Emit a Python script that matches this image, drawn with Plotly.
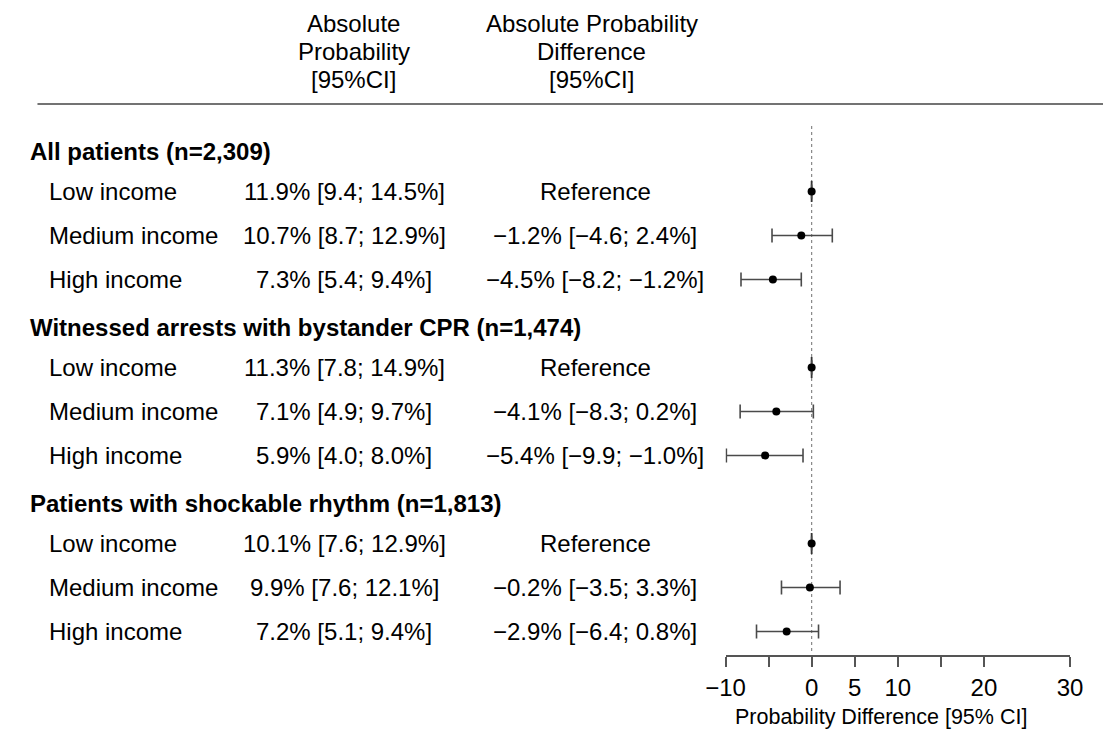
import plotly.graph_objects as go

W, H = 1116, 729
FONT = "Liberation Sans, Arial, Helvetica, sans-serif"

# ---------------- data ----------------
groups = ["All patients (n=2,309)",
          "Witnessed arrests with bystander CPR (n=1,474)",
          "Patients with shockable rhythm (n=1,813)"]
income = ["Low income", "Medium income", "High income"]

# absolute probability [95% CI] per group (low, medium, high)
abs_est = [[11.9, 10.7, 7.3], [11.3, 7.1, 5.9], [10.1, 9.9, 7.2]]
abs_lo = [[9.4, 8.7, 5.4], [7.8, 4.9, 4.0], [7.6, 7.6, 5.1]]
abs_hi = [[14.5, 12.9, 9.4], [14.9, 9.7, 8.0], [12.9, 12.1, 9.4]]

# absolute probability difference vs low income [95% CI]
diff_est = [[0.0, -1.2, -4.5], [0.0, -4.1, -5.4], [0.0, -0.2, -2.9]]
diff_lo = [[0.0, -4.6, -8.2], [0.0, -8.3, -9.9], [0.0, -3.5, -6.4]]
diff_hi = [[0.0, 2.4, -1.2], [0.0, 0.2, -1.0], [0.0, 3.3, 0.8]]

tick_vals = [-10, -5, 0, 5, 10, 15, 20, 30]
tick_text = ["\u221210", "", "0", "5", "10", "", "20", "30"]

header_abs = ["Absolute", "Probability", "[95%CI]"]
header_diff = ["Absolute Probability", "Difference", "[95%CI]"]
axis_title = "Probability Difference [95% CI]"


# ---------------- helpers ----------------
def fmt(v):
    s = f"{v:.1f}"
    return s.replace("-", "\u2212")


def px_x(p):
    return p / W


def px_y(p):
    return 1 - p / H


# row layout: row index k -> pixel 147.5 + 44*k
ROW0, STEP = 147.5, 44.0
AX_PIX = 655
y_top = -ROW0 / STEP
y_bot = (AX_PIX - ROW0) / STEP

fig = go.Figure()
annotations = []
TXT = dict(size=24, family=FONT, color="black")

xs, ys, ep, em = [], [], [], []
zx, zy = [], []
for g, gname in enumerate(groups):
    kt = 4 * g
    annotations.append(dict(x=px_x(8), xref="paper", y=kt, yref="y", text=f"<b>{gname}</b>",
                            xanchor="left", yanchor="middle", showarrow=False, yshift=-4,
                            font=TXT))
    for i, lab in enumerate(income):
        k = kt + 1 + i
        annotations.append(dict(x=px_x(28), xref="paper", y=k, yref="y", text=lab,
                                xanchor="left", yanchor="middle", showarrow=False, font=TXT))
        t2 = f"{abs_est[g][i]:.1f}% [{abs_lo[g][i]:.1f}; {abs_hi[g][i]:.1f}%]"
        annotations.append(dict(x=px_x(334), xref="paper", y=k, yref="y", text=t2,
                                xanchor="center", yanchor="middle", showarrow=False, font=TXT))
        if i == 0:
            t3 = "Reference"
        else:
            t3 = f"{fmt(diff_est[g][i])}% [{fmt(diff_lo[g][i])}; {fmt(diff_hi[g][i])}%]"
        annotations.append(dict(x=px_x(593), xref="paper", y=k, yref="y", text=t3,
                                xanchor="center", yanchor="middle", showarrow=False, font=TXT))
        xs.append(diff_est[g][i])
        ys.append(k)
        ep.append(diff_hi[g][i] - diff_est[g][i])
        em.append(diff_est[g][i] - diff_lo[g][i])
        if diff_hi[g][i] == diff_lo[g][i]:
            zx.append(diff_est[g][i])
            zy.append(k)

# degenerate CIs (reference rows): the collapsed caps form a short vertical tick
fig.add_trace(go.Scatter(
    x=zx, y=zy, mode="markers",
    marker=dict(symbol="line-ns", size=15, line=dict(color="#333333", width=1.8)),
    hoverinfo="skip", showlegend=False,
))

fig.add_trace(go.Scatter(
    x=xs, y=ys, mode="markers",
    marker=dict(color="black", size=8, symbol="circle"),
    error_x=dict(type="data", symmetric=False, array=ep, arrayminus=em,
                 color="#4a4a4a", thickness=1.6, width=7),
    hoverinfo="skip", showlegend=False,
))

# headers
for t, py in zip(header_abs, [24, 52, 80]):
    annotations.append(dict(x=px_x(344), xref="paper", y=px_y(py), yref="paper", text=t,
                            xanchor="center", yanchor="middle", showarrow=False, font=TXT))
for t, py in zip(header_diff, [24, 52, 80]):
    annotations.append(dict(x=px_x(589), xref="paper", y=px_y(py), yref="paper", text=t,
                            xanchor="center", yanchor="middle", showarrow=False, font=TXT))

annotations.append(dict(x=px_x(887), xref="paper", y=px_y(717), yref="paper", text=axis_title,
                        xanchor="center", yanchor="middle", showarrow=False,
                        font=dict(size=21.5, family=FONT, color="black")))

shapes = [
    dict(type="line", xref="paper", yref="paper", x0=px_x(18), x1=1, y0=px_y(104), y1=px_y(104),
         line=dict(color="#444444", width=1.5)),
    dict(type="line", xref="x", yref="paper", x0=0, x1=0, y0=px_y(126), y1=px_y(653),
         line=dict(color="#888888", width=1.2, dash="dot"), layer="below"),
]

fig.update_layout(
    width=W, height=H,
    margin=dict(l=0, r=0, t=0, b=0),
    paper_bgcolor="white", plot_bgcolor="white",
    showlegend=False,
    annotations=annotations,
    shapes=shapes,
    font=dict(family=FONT, size=24, color="black"),
    xaxis=dict(domain=[727 / W, 1082 / W], range=[-10, 30],
               tickmode="array", tickvals=tick_vals, ticktext=tick_text,
               ticks="outside", ticklen=10, tickwidth=1.5, tickcolor="#555555",
               showline=True, linecolor="#555555", linewidth=1.5,
               showgrid=False, zeroline=False, anchor="y",
               tickfont=dict(size=24, family=FONT, color="black")),
    yaxis=dict(domain=[1 - AX_PIX / H, 1], range=[y_bot, y_top],
               visible=False, showgrid=False, zeroline=False),
)

fig.write_html("out.html")
